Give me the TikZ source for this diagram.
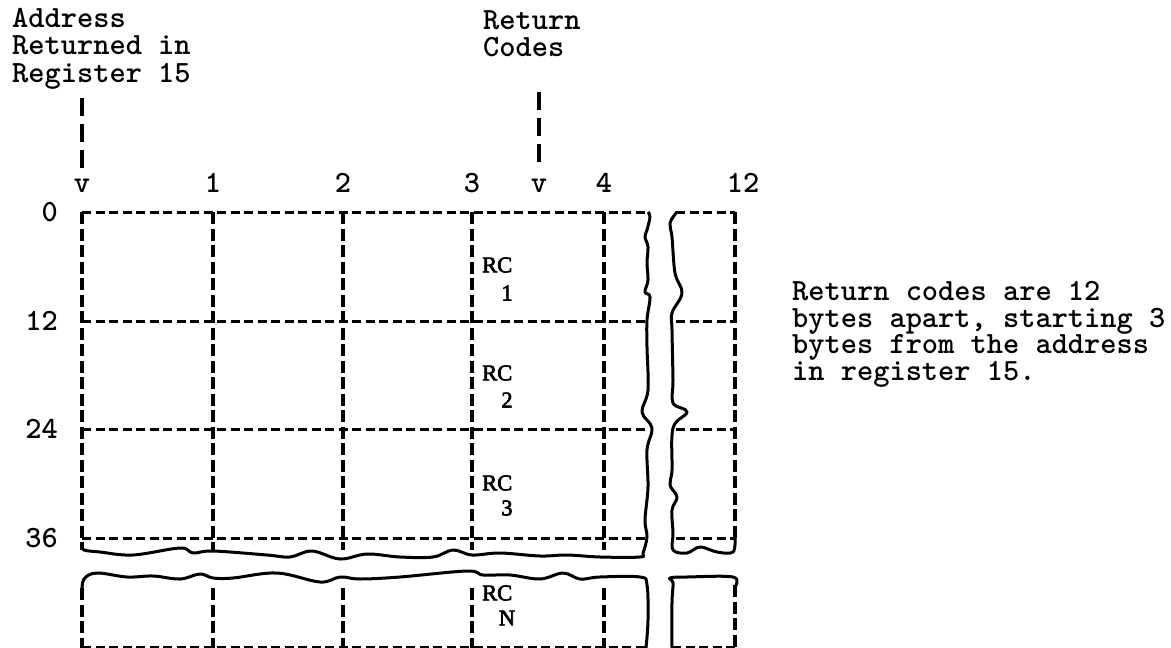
\documentclass[tikz,border=0pt]{standalone}
\usepackage{fontspec}
\newfontfamily\rcfont[FakeBold=3]{Liberation Serif}

\begin{document}
\begin{tikzpicture}[x=1pt,y=-1pt,
  gridline/.style={line width=3pt, dash pattern=on 9pt off 4.5pt},
  colline/.style={line width=3.2pt, dash pattern=on 12pt off 4.5pt},
  pointer/.style={line width=3.2pt, dash pattern=on 18pt off 8pt},
  tear/.style={line width=3pt, line join=round},
  txt/.style={font=\ttfamily\bfseries\fontsize{30.9}{27.5}\selectfont, inner sep=0pt, align=left},
  rc/.style={font=\rcfont\fontsize{22.5}{22.5}\selectfont, inner sep=0pt}]

\useasboundingbox (0,0) rectangle (1171,648);

% headings and pointers
\node[txt, anchor=north west] (addr) at (12,8) {Address\\Returned in\\Register 15};
\node[txt, anchor=north west] (rcodes) at (483,10) {Return\\Codes};
\node[txt, anchor=base] (vaddr) at (82,192) {v};
\node[txt, anchor=base] (vrc) at (539,192) {v};
\draw[pointer] ([yshift=-8pt]addr.south -| vaddr.north) -- ([yshift=8pt]vaddr.north);
\draw[pointer] ([yshift=-35pt]rcodes.south -| vrc.north) -- ([yshift=9pt]vrc.north);

% byte and offset numbers
\foreach \i/\x in {1/213,2/343,3/472,4/604,12/743}
  \node[txt, anchor=base] (col\i) at (\x,192) {\i};
\foreach \r/\y in {0/212,12/321,24/429,36/538}
  \node[txt, anchor=east] (row\r) at (58,\y) {\r};

% upper block
\foreach \y in {212,321,429,538} {
  \draw[gridline] (82,\y) -- (646,\y);
  \draw[gridline] (676,\y) -- (735,\y);
}
\foreach \x in {82,213,343,472,604}
  \draw[colline] (\x,212) -- (\x,550);
\draw[colline] (735,212) -- (735,540);

% lower block
\draw[gridline] (82,647) -- (646,647);
\draw[gridline] (672,647) -- (735,647);
\foreach \x in {82,213,343,472,604}
  \draw[colline] (\x,588) -- (\x,648);
\draw[colline] (735,585) -- (735,648);

% torn edges
\draw[tear] plot[smooth, tension=0.6] coordinates {(648,212) (650,217) (647,230) (645,237)
  (648,247) (647,263) (648,280) (645,292) (650,297) (647,320) (647,347) (648,390) (642,412)
  (652,428) (647,450) (648,487) (645,520) (647,537) (643,553) (640,557) (600,557) (567,555)
  (540,556) (500,553) (472,555) (453,550) (433,557) (400,557) (367,554) (340,559) (312,551)
  (290,557) (267,555) (213,551) (193,553) (180,548) (133,555) (100,552) (84,550) (82,545)};
\draw[tear] plot[smooth, tension=0.6] coordinates {(82,592) (84,579) (97,573) (127,577)
  (153,576) (180,579) (200,574) (213,578) (233,578) (277,573) (320,582) (340,577) (360,579)
  (400,577) (467,571) (483,575) (510,575) (540,579) (563,573) (580,579) (600,577) (640,577)
  (647,585) (648,620) (646,648)};
\draw[tear] plot[smooth, tension=0.6] coordinates {(677,212) (670,223) (672,237) (675,273)
  (682,293) (672,313) (672,330) (673,380) (673,403) (687,412) (673,428) (672,470) (670,485)
  (677,497) (672,510) (673,533) (673,550) (687,553) (700,547) (717,552) (733,552) (735,537)};
\draw[tear] plot[smooth, tension=0.6] coordinates {(672,648) (672,603) (673,583) (670,578)
  (687,577) (733,577) (735,587)};

% return code labels
\foreach \n/\a/\b in {1/265/293, 2/373/400, 3/483/508, N/593/618} {
  \node[rc, anchor=west] (rc\n) at (482,\a) {RC};
  \node[rc] (num\n) at (507,\b) {\n};
}

% note
\node[txt, anchor=north west, font=\ttfamily\bfseries\fontsize{30.9}{26.7}\selectfont]
  (note) at (792,281)
  {Return codes are 12\\bytes apart, starting 3\\bytes from the address\\in register 15.};
\end{tikzpicture}
\end{document}
